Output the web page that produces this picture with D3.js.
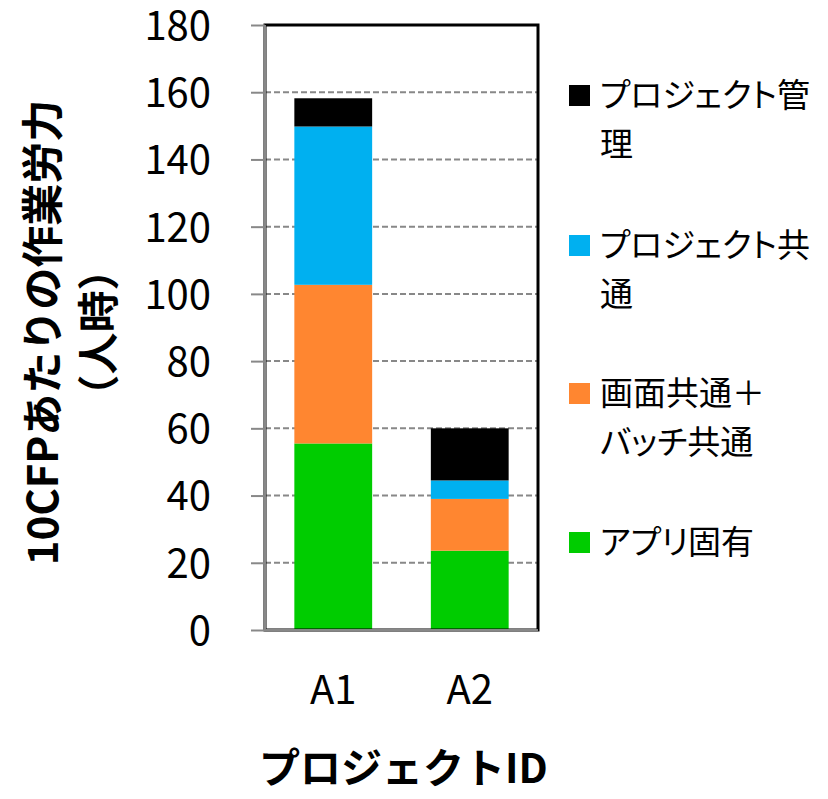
<!DOCTYPE html>
<html>
<head>
<meta charset="utf-8">
<script src="https://cdn.jsdelivr.net/npm/d3@7"></script>
<style>
body { margin: 0; background: #fff; }
text { font-family: "Noto Sans CJK JP", "DejaVu Sans", sans-serif; }
</style>
</head>
<body>
<div id="chart"></div>
<script>
// data
var projects = ["A1", "A2"];
var seriesNames = ["アプリ固有", "画面共通＋バッチ共通", "プロジェクト共通", "プロジェクト管理"];
var seriesKeys = ["app", "common", "project", "mgmt"];
var appValues = [55.5, 23.6];
var commonValues = [47.2, 15.4];
var projectValues = [47.1, 5.5];
var mgmtValues = [8.4, 15.5];
var seriesColors = ["#00cc00", "#ff8630", "#00b0f0", "#000000"];
var yTicks = [0, 20, 40, 60, 80, 100, 120, 140, 160, 180];

// legend rows, top to bottom (black first)
var legendLines = [
    ["プロジェクト管", "理"],
    ["プロジェクト共", "通"],
    ["画面共通＋", "バッチ共通"],
    ["アプリ固有"]
];
var legendColors = ["#000000", "#00b0f0", "#ff8630", "#00cc00"];

var width = 828, height = 799;
var plotLeft = 265, plotRight = 538, plotTop = 25, plotBottom = 630;

var svg = d3.select("#chart").append("svg")
    .attr("width", width)
    .attr("height", height);

var rows = projects.map(function(p, i) {
    return {id: p, app: appValues[i], common: commonValues[i], project: projectValues[i], mgmt: mgmtValues[i]};
});

var stack = d3.stack().keys(seriesKeys);
var layers = stack(rows);

var x = d3.scaleBand()
    .domain(projects)
    .range([plotLeft, plotRight])
    .paddingInner(0.43)
    .paddingOuter(0.215);

var y = d3.scaleLinear()
    .domain([0, 180])
    .range([plotBottom, plotTop]);

//gridlines
svg.append("g").selectAll("line.grid")
    .data(yTicks.filter(function(t) { return t > 0 && t < 180; }))
    .enter().append("line")
    .attr("class", "grid")
    .attr("x1", plotLeft)
    .attr("x2", plotRight)
    .attr("y1", function(d) { return y(d); })
    .attr("y2", function(d) { return y(d); })
    .attr("stroke", "#888")
    .attr("stroke-width", 2)
    .attr("stroke-dasharray", "6,3");

//bars
svg.append("g").selectAll("g.layer")
    .data(layers)
    .enter().append("g")
    .attr("class", "layer")
    .attr("fill", function(d, i) { return seriesColors[i]; })
    .selectAll("rect")
    .data(function(d) { return d; })
    .enter().append("rect")
    .attr("x", function(d) { return x(d.data.id); })
    .attr("width", x.bandwidth())
    .attr("y", function(d) { return y(d[1]); })
    .attr("height", function(d) { return y(d[0]) - y(d[1]); });

//frame
svg.append("rect")
    .attr("x", plotLeft)
    .attr("y", plotTop)
    .attr("width", plotRight - plotLeft)
    .attr("height", plotBottom - plotTop)
    .attr("fill", "none")
    .attr("stroke", "#000")
    .attr("stroke-width", 3);
svg.append("line")
    .attr("x1", plotLeft).attr("x2", plotLeft)
    .attr("y1", plotTop).attr("y2", plotBottom)
    .attr("stroke", "#888").attr("stroke-width", 2);
svg.append("line")
    .attr("x1", plotLeft).attr("x2", plotRight)
    .attr("y1", plotBottom).attr("y2", plotBottom)
    .attr("stroke", "#888").attr("stroke-width", 2);

//y axis
var yAxis = d3.axisLeft(y)
    .tickValues(yTicks)
    .tickSize(14)
    .tickPadding(40);
var yg = svg.append("g")
    .attr("transform", "translate(" + plotLeft + ",0)")
    .call(yAxis);
yg.select(".domain").remove();
yg.selectAll(".tick line").attr("stroke", "#888").attr("stroke-width", 2);
yg.selectAll(".tick text")
    .attr("fill", "#000")
    .attr("dy", "0.36em")
    .style("font-size", "40px");

//x axis labels
var xAxis = d3.axisBottom(x).tickSize(0).tickPadding(50);
var xg = svg.append("g")
    .attr("transform", "translate(0," + plotBottom + ")")
    .call(xAxis);
xg.select(".domain").remove();
xg.selectAll(".tick text")
    .attr("fill", "#000")
    .attr("dy", "0.6em")
    .style("font-size", "40px");

//axis titles
svg.append("text")
    .attr("x", (plotLeft + plotRight) / 2 + 2)
    .attr("y", 783)
    .attr("text-anchor", "middle")
    .style("font-size", "41px")
    .style("font-weight", "bold")
    .text("プロジェクトID");

var ytitle = svg.append("text")
    .attr("transform", "translate(58," + ((plotTop + plotBottom) / 2 + 5) + ") rotate(-90)")
    .attr("text-anchor", "middle")
    .style("font-size", "42px")
    .style("font-weight", "bold");
ytitle.append("tspan").attr("x", 0).attr("dy", 0).text("10CFPあたりの作業労力");
ytitle.append("tspan").attr("x", 0).attr("dy", 56).text("（人時）");

//legend
var legendTop = [95, 245, 393, 542];
var legend = svg.append("g").selectAll("g.legend")
    .data(legendLines)
    .enter().append("g")
    .attr("class", "legend")
    .attr("transform", function(d, i) { return "translate(569," + legendTop[i] + ")"; });

legend.append("rect")
    .attr("x", 0)
    .attr("y", -10)
    .attr("width", 21)
    .attr("height", 21)
    .attr("fill", function(d, i) { return legendColors[i]; });

legend.each(function(lines) {
    var t = d3.select(this).append("text")
        .attr("x", 31)
        .attr("y", 12)
        .style("font-size", "33px")
        .style("font-feature-settings", "'palt'");
    lines.forEach(function(l, j) {
        t.append("tspan").attr("x", 31).attr("dy", j == 0 ? 0 : 49).text(l);
    });
});
</script>
</body>
</html>
